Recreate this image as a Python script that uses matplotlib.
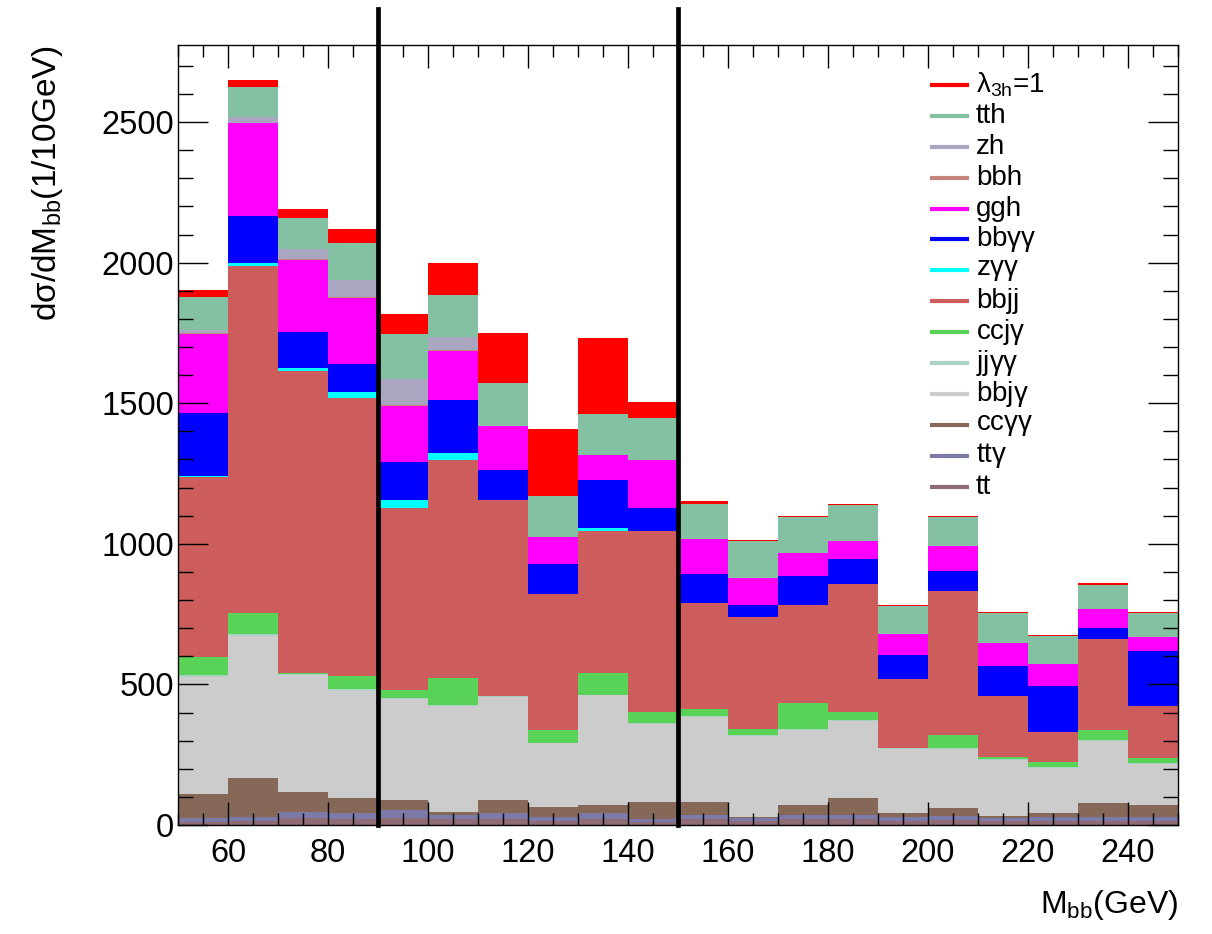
import numpy as np
import matplotlib.pyplot as plt
from matplotlib.ticker import MultipleLocator

plt.rcParams["font.family"] = ["Liberation Sans", "DejaVu Sans"]
plt.rcParams["mathtext.fontset"] = "custom"
plt.rcParams["mathtext.rm"] = "Liberation Sans"
plt.rcParams["mathtext.it"] = "Liberation Sans"

# 10 GeV bins from 50 to 250 GeV
edges = np.arange(50, 251, 10)

# per-process contributions, stacked bottom -> top
tt     = [12, 14, 25, 22, 25, 20, 22, 15, 22, 12, 20, 14, 20, 20, 15, 18, 15, 15, 15, 15]
tta    = [12, 16, 22, 20, 28, 16, 20, 15, 20, 10, 16, 11, 16, 16, 13, 15, 10, 13, 15, 15]
ccaa   = [88, 136, 71, 53, 36, 11, 47, 35, 29, 61, 47, 5, 35, 59, 13, 26, 7, 13, 47, 41]
bbja   = [415, 506, 417, 383, 360, 378, 367, 225, 390, 275, 302, 286, 266, 275, 230, 211, 198, 163, 222, 145]
jjaa   = [8, 7, 3, 4, 4, 3, 3, 3, 3, 3, 3, 4, 3, 3, 3, 3, 3, 3, 3, 3]
ccja   = [61, 76, 4, 48, 27, 95, 0, 45, 77, 42, 26, 20, 93, 30, 0, 47, 10, 18, 36, 18]
bbjj   = [642, 1234, 1072, 990, 646, 775, 697, 483, 505, 643, 377, 398, 351, 454, 244, 513, 216, 107, 322, 186]
zaa    = [2, 8, 10, 21, 30, 24, 0, 0, 9, 0, 0, 0, 0, 0, 0, 0, 0, 0, 0, 0]
bbaa   = [226, 170, 130, 100, 136, 189, 106, 107, 172, 80, 100, 46, 102, 89, 88, 71, 106, 162, 42, 196]
ggh    = [281, 328, 255, 234, 199, 175, 157, 97, 89, 172, 126, 93, 80, 64, 72, 89, 84, 77, 66, 48]
bbh    = [2, 2, 3, 3, 3, 3, 0, 0, 0, 0, 0, 0, 0, 0, 0, 0, 0, 0, 0, 0]
zh     = [13, 22, 35, 62, 91, 47, 0, 0, 0, 0, 0, 0, 0, 0, 0, 0, 0, 0, 0, 0]
tth    = [115, 107, 113, 131, 160, 150, 152, 146, 147, 148, 126, 134, 128, 128, 101, 101, 106, 101, 87, 88]
signal = [24, 23, 31, 47, 71, 114, 180, 239, 269, 60, 10, 4, 5, 5, 5, 6, 1, 5, 7, 1]

stack = [
    ("tt", tt, "#8f6b76"),
    ("tt$\\gamma$", tta, "#7b7aa8"),
    ("cc$\\gamma\\gamma$", ccaa, "#866858"),
    ("bbj$\\gamma$", bbja, "#cccccc"),
    ("jj$\\gamma\\gamma$", jjaa, "#a8d2c4"),
    ("ccj$\\gamma$", ccja, "#58d358"),
    ("bbjj", bbjj, "#cd5c5c"),
    ("z$\\gamma\\gamma$", zaa, "#00ffff"),
    ("bb$\\gamma\\gamma$", bbaa, "#0000ff"),
    ("ggh", ggh, "#ff00ff"),
    ("bbh", bbh, "#c4857a"),
    ("zh", zh, "#aaa6c2"),
    ("tth", tth, "#84c1a3"),
    ("λ$_{\\mathrm{3h}}$=1", signal, "#ff0000"),
]

fig = plt.figure(figsize=(12.12, 9.34), dpi=100)
ax = fig.add_axes([0.1469, 0.1167, 0.8251, 0.8351])

bottom = np.zeros(len(edges) - 1)
for name, vals, col in stack:
    vals = np.asarray(vals, dtype=float)
    ax.bar(edges[:-1], vals, width=10, bottom=bottom, align="edge",
           color=col, linewidth=0)
    bottom += vals

# mass window boundaries
for xv in (90, 150):
    ax.axvline(xv, ymin=0, ymax=1.046, color="black", lw=3.4, clip_on=False,
               zorder=5)

ax.set_xlim(50, 250)
ax.set_ylim(0, 2774)
ax.xaxis.set_major_locator(MultipleLocator(20))
ax.xaxis.set_minor_locator(MultipleLocator(5))
ax.yaxis.set_major_locator(MultipleLocator(500))
ax.yaxis.set_minor_locator(MultipleLocator(100))
ax.tick_params(axis="both", which="both", direction="in", top=True, right=True,
               width=1.0, labelsize=23.5)
ax.tick_params(axis="x", which="major", length=16.5, pad=9)
ax.tick_params(axis="x", which="minor", length=8.3)
ax.tick_params(axis="y", which="major", length=21.6, pad=3)
ax.tick_params(axis="y", which="minor", length=10.8)
for sp in ax.spines.values():
    sp.set_linewidth(1.0)
    sp.set_zorder(6)

ax.set_xlabel("M$_{\\mathrm{bb}}$(GeV)", fontsize=23, loc="right", labelpad=14)
ax.set_ylabel("dσ/dM$_{\\mathrm{bb}}$(1/10GeV)", fontsize=24, loc="top",
              labelpad=26)

# legend drawn as line entries, top entry first
x0, x1, xt = 0.752, 0.791, 0.798
y0, dy = 0.9487, 0.0396
for i, (name, vals, col) in enumerate(stack[::-1]):
    y = y0 - i * dy
    ax.plot([x0, x1], [y, y], transform=ax.transAxes, color=col, lw=3,
            solid_capstyle="butt", zorder=7)
    ax.text(xt, y, name, transform=ax.transAxes, fontsize=20, va="center",
            ha="left", zorder=7)

fig.savefig("out.png", dpi=100)
